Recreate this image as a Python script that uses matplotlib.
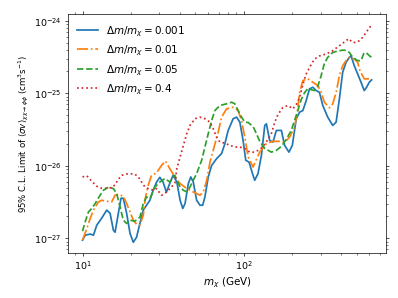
import matplotlib
matplotlib.use('Agg')
import matplotlib.pyplot as plt

# values (mass in GeV, limit in cm^3 s^-1)
m_001 = [10.0, 10.39, 11.16, 11.69, 12.25, 13.15, 14.13, 14.82, 15.54, 15.92,
         16.68, 17.33, 17.91, 18.77, 19.70, 20.64, 21.63, 22.70, 23.81, 24.94,
         26.17, 27.43, 28.75, 30.17, 31.62, 33.13, 34.77, 36.45, 38.45, 40.27,
         41.85, 43.23, 45.3, 46.9, 48.6, 51.0, 53.5, 55.6, 57.4, 60.2,
         63.2, 67.8, 72.8, 76.3, 80.0, 85.9, 90.2, 94.5, 99.0, 102.8,
         107.8, 113.2, 116.9, 122.5, 128.6, 134.9, 138.1, 144.7, 151.7, 159.2,
         171.0, 179.1, 190.5, 199.9, 211.5, 221.7, 232.4, 243.8, 255.4, 267.9,
         281.1, 294.4, 308.8, 331.4, 355.8, 373.5, 391.5, 410.3, 430.5, 451.2,
         462, 484, 508, 533, 558, 577, 600, 620]
sv_001 = [9.4e-28, 1.10e-27, 1.14e-27, 1.10e-27, 1.51e-27, 1.89e-27, 2.44e-27, 2.21e-27, 1.29e-27, 1.21e-27,
          2.21e-27, 3.56e-27, 3.56e-27, 2.21e-27, 1.17e-27, 8.8e-28, 1.03e-27, 1.61e-27, 2.44e-27, 2.85e-27,
          3.34e-27, 4.59e-27, 5.91e-27, 6.92e-27, 5.91e-27, 4.31e-27, 5.73e-27, 7.38e-27, 5.97e-27, 3.34e-27,
          2.57e-27, 3.01e-27, 5.67e-27, 7.0e-27, 5.97e-27, 3.34e-27, 2.85e-27, 2.85e-27, 3.71e-27, 7.0e-27,
          1.01e-26, 1.25e-26, 1.47e-26, 2.01e-26, 3.07e-26, 4.45e-26, 4.68e-26, 3.99e-26, 2.23e-26, 1.19e-26,
          1.12e-26, 7.8e-27, 6.3e-27, 7.8e-27, 1.39e-26, 3.60e-26, 3.79e-26, 2.23e-26, 2.12e-26, 3.07e-26,
          3.07e-26, 1.91e-26, 1.54e-26, 1.91e-26, 4.45e-26, 5.48e-26, 5.78e-26, 7.94e-26, 1.15e-25, 1.21e-25,
          1.09e-25, 1.03e-25, 6.78e-26, 4.68e-26, 3.60e-26, 3.99e-26, 8.37e-26, 1.95e-25, 2.67e-25, 3.13e-25,
          3.30e-25, 2.40e-25, 1.85e-25, 1.42e-25, 1.09e-25, 1.21e-25, 1.42e-25, 1.53e-25]

m_01 = [10.0, 10.63, 11.16, 11.69, 12.56, 13.15, 14.13, 15.16, 15.92, 16.68,
        17.91, 18.77, 19.70, 20.64, 21.63, 22.70, 23.81, 24.59, 25.55, 26.78,
        28.75, 30.88, 32.67, 34.77, 37.35, 40.27, 44.3, 48.6, 53.5, 56.1,
        58.9, 61.7, 64.6, 69.4, 72.8, 78.2, 85.9, 92.2, 96.8, 101.4,
        106.4, 114.1, 125.6, 138.1, 151.7, 166.7, 179.1, 192.3, 206.5, 215.4,
        221.7, 232.4, 249.5, 267.9, 287.5, 301.7, 316.2, 339.6, 355.8, 373.5,
        391.5, 410.3, 430.5, 451.2, 484, 508, 525, 558, 600, 620]
sv_01 = [9.4e-28, 1.36e-27, 1.87e-27, 2.44e-27, 3.17e-27, 3.34e-27, 3.24e-27, 3.17e-27, 3.92e-27, 4.04e-27,
         3.79e-27, 3.01e-27, 2.31e-27, 1.77e-27, 1.56e-27, 1.51e-27, 2.08e-27, 3.71e-27, 5.37e-27, 7.38e-27,
         7.94e-27, 1.01e-26, 1.16e-26, 9.12e-27, 7.0e-27, 5.67e-27, 4.84e-27, 4.35e-27, 3.92e-27, 4.35e-27,
         6.30e-27, 1.12e-26, 1.63e-26, 2.91e-26, 4.68e-26, 6.10e-26, 6.42e-26, 5.78e-26, 4.21e-26, 2.48e-26,
         1.32e-26, 9.6e-27, 1.54e-26, 2.03e-26, 2.17e-26, 2.17e-26, 2.10e-26, 2.48e-26, 3.41e-26, 5.78e-26,
         1.02e-25, 1.50e-25, 1.58e-25, 1.42e-25, 1.28e-25, 1.03e-25, 7.52e-26, 6.30e-26, 7.15e-26, 1.02e-25,
         1.75e-25, 2.40e-25, 2.82e-25, 3.13e-25, 2.97e-25, 2.67e-25, 2.05e-25, 1.58e-25, 1.58e-25, 1.59e-25]

m_05 = [10.0, 10.39, 10.89, 11.41, 11.98, 12.86, 13.48, 14.47, 15.54, 16.29,
        17.09, 17.91, 18.77, 19.70, 21.15, 22.70, 23.81, 24.94, 26.17, 28.1,
        30.17, 32.4, 34.77, 37.35, 38.45, 40.27, 42.2, 44.3, 46.4, 48.6,
        51.0, 54.8, 57.4, 60.2, 63.2, 66.2, 71.1, 78.2, 84.0, 88.0,
        92.2, 96.8, 101.4, 106.4, 114.1, 119.8, 125.6, 134.9, 148.3, 159.2,
        171.0, 183.5, 196.9, 211.5, 227.0, 238.2, 249.5, 261.8, 274.2, 287.5,
        301.7, 316.2, 331.4, 355.8, 391.5, 420, 451.2, 473, 508, 533,
        554, 572, 600, 620]
sv_05 = [1.25e-27, 1.68e-27, 2.31e-27, 2.57e-27, 3.01e-27, 3.92e-27, 4.59e-27, 5.05e-27, 4.84e-27, 4.13e-27,
         2.70e-27, 1.77e-27, 1.60e-27, 1.77e-27, 1.72e-27, 1.95e-27, 3.01e-27, 3.71e-27, 3.53e-27, 5.09e-27,
         5.97e-27, 6.65e-27, 5.97e-27, 7.38e-27, 6.30e-27, 5.09e-27, 4.59e-27, 4.35e-27, 5.09e-27, 6.30e-27,
         7.78e-27, 1.19e-26, 1.81e-26, 2.77e-26, 4.21e-26, 5.78e-26, 6.78e-26, 7.15e-26, 7.52e-26, 7.15e-26,
         5.78e-26, 4.68e-26, 3.99e-26, 3.95e-26, 3.48e-26, 2.77e-26, 2.17e-26, 1.73e-26, 1.54e-26, 1.63e-26,
         1.85e-26, 2.31e-26, 3.07e-26, 4.93e-26, 8.18e-26, 1.02e-25, 1.16e-25, 1.12e-25, 1.09e-25, 1.24e-25,
         1.75e-25, 2.60e-25, 3.13e-25, 3.66e-25, 3.87e-25, 3.95e-25, 3.66e-25, 3.13e-25, 2.82e-25, 2.82e-25,
         3.52e-25, 3.66e-25, 3.30e-25, 3.13e-25]

m_4 = [10.0, 10.63, 11.41, 12.25, 13.15, 14.13, 15.16, 15.92, 16.68, 17.48,
       18.77, 20.15, 21.15, 22.17, 23.23, 24.38, 25.55, 27.43, 28.75, 30.88,
       32.4, 33.96, 35.6, 37.35, 38.45, 40.27, 42.2, 44.3, 46.4, 49.8,
       53.5, 57.4, 61.7, 64.6, 67.8, 71.1, 76.3, 82.0, 88.0, 94.5,
       101.4, 108.9, 116.9, 122.5, 131.0, 141.3, 148.3, 155.4, 162.8, 174.8,
       187.7, 201.5, 211.5, 221.7, 232.4, 243.8, 255.4, 274.2, 294.4, 323.8,
       355.8, 391.5, 430.5, 448, 471, 496, 520, 545, 572, 600, 620]
sv_4 = [7.0e-27, 7.26e-27, 6.10e-27, 5.21e-27, 4.89e-27, 4.89e-27, 4.97e-27, 5.46e-27, 6.50e-27, 7.38e-27,
        7.69e-27, 7.72e-27, 7.62e-27, 7.0e-27, 5.97e-27, 5.09e-27, 4.84e-27, 4.59e-27, 4.84e-27, 3.92e-27,
        4.13e-27, 4.59e-27, 5.09e-27, 5.73e-27, 9.12e-27, 1.32e-26, 1.91e-26, 2.77e-26, 3.60e-26, 4.45e-26,
        4.68e-26, 4.45e-26, 3.99e-26, 3.24e-26, 2.48e-26, 2.12e-26, 2.05e-26, 1.91e-26, 1.81e-26, 1.81e-26,
        1.72e-26, 1.54e-26, 1.54e-26, 1.63e-26, 1.81e-26, 2.31e-26, 2.79e-26, 3.95e-26, 5.09e-26, 6.36e-26,
        6.78e-26, 6.10e-26, 7.0e-26, 8.73e-26, 1.32e-25, 1.85e-25, 2.26e-25, 2.97e-25, 3.27e-25, 3.48e-25,
        3.87e-25, 4.53e-25, 5.31e-25, 5.65e-25, 5.03e-25, 5.03e-25, 5.31e-25, 5.89e-25, 6.84e-25, 8.01e-25, 8.67e-25]

fig = plt.figure(figsize=(6.4, 4.8))
ax = fig.add_axes([0.171, 0.1505, 0.799, 0.7995])

ax.plot(m_001, sv_001, '-', lw=2, color='C0', label=r'$\Delta m/m_\chi = 0.001$')
ax.plot(m_01, sv_01, '-.', lw=2, color='C1', label=r'$\Delta m/m_\chi = 0.01$')
ax.plot(m_05, sv_05, '--', lw=2, color='C2', label=r'$\Delta m/m_\chi = 0.05$')
ax.plot(m_4, sv_4, ':', lw=2, color='C3', label=r'$\Delta m/m_\chi = 0.4$')

ax.set_xscale('log')
ax.set_yscale('log')
ax.tick_params(which='both', top=True, right=True, labelsize=11)
ax.set_xlabel(r'$m_\chi$ (GeV)', fontsize=12)
ax.set_ylabel(r'95% C.L. Limit of $\langle\sigma v\rangle_{\chi\chi\to\phi\phi}$ (cm$^3$s$^{-1}$)', fontsize=10)
ax.legend(loc='upper left', frameon=False, fontsize=12)

fig.savefig('out.png', dpi=398 / 6.4)
